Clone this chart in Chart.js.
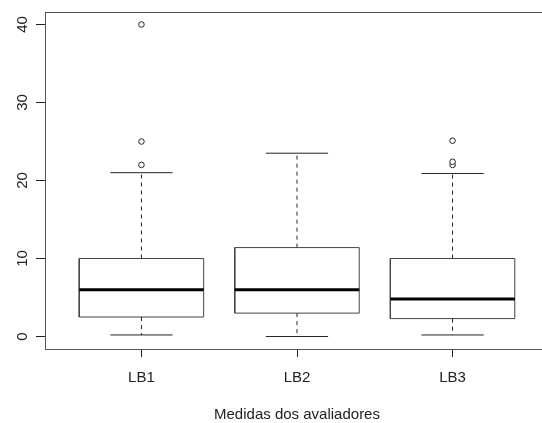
<!DOCTYPE html>
<html>
<head>
<meta charset="utf-8">
<script src="https://cdn.jsdelivr.net/npm/chart.js@4/dist/chart.umd.min.js"></script>
<style>
  html, body { margin: 0; padding: 0; background: #fff; overflow: hidden; }
  canvas { display: block; }
</style>
</head>
<body>
<canvas id="boxplot" width="554" height="423"></canvas>
<script>
// values
const groups = ['LB1', 'LB2', 'LB3'];
const whiskerLow = [0.2, 0, 0.2];
const q1 = [2.5, 3, 2.3];
const median = [6, 6, 4.8];
const q3 = [10, 11.4, 10];
const whiskerHigh = [21, 23.5, 20.9];
const outliers = [[22, 25, 40], [], [22, 22.4, 25.1]];
const yTicks = [0, 10, 20, 30, 40];

const ink = '#222';
const font = { family: 'Liberation Sans, Arial, sans-serif', size: 15 };

const seg = (pts, extra) => Object.assign({
    type: 'scatter',
    data: pts,
    showLine: true,
    borderColor: ink,
    borderWidth: 1,
    pointRadius: 0,
    fill: false
}, extra || {});

var datasets = [];
groups.forEach((g, i) => {
    const x = i + 1;
    datasets.push(seg([{x: x - 0.4, y: median[i]}, {x: x + 0.4, y: median[i]}], {borderWidth: 3, borderColor: '#000'}));
    datasets.push(seg([
        {x: x - 0.4, y: q1[i]}, {x: x + 0.4, y: q1[i]}, {x: x + 0.4, y: q3[i]},
        {x: x - 0.4, y: q3[i]}, {x: x - 0.4, y: q1[i]}
    ], {borderColor: '#444'}));
    datasets.push(seg([{x: x, y: q3[i]}, {x: x, y: whiskerHigh[i]}], {borderDash: [4, 4]}));
    datasets.push(seg([{x: x, y: q1[i]}, {x: x, y: whiskerLow[i]}], {borderDash: [4, 4]}));
    datasets.push(seg([{x: x - 0.2, y: whiskerHigh[i]}, {x: x + 0.2, y: whiskerHigh[i]}]));
    datasets.push(seg([{x: x - 0.2, y: whiskerLow[i]}, {x: x + 0.2, y: whiskerLow[i]}]));
});
var outPts = [];
outliers.forEach((arr, i) => arr.forEach(v => outPts.push({x: i + 1, y: v})));
datasets.unshift({
    type: 'scatter',
    data: outPts,
    pointStyle: 'circle',
    pointRadius: 2.8,
    pointBorderWidth: 1,
    pointBorderColor: ink,
    pointBackgroundColor: '#fff'
});

// frame and rotated y labels, like base R graphics
const framePlugin = {
    id: 'frame',
    afterDraw(chart) {
        const c = chart.ctx, a = chart.chartArea, ys = chart.scales.y;
        c.save();
        c.strokeStyle = '#555';
        c.lineWidth = 1;
        c.strokeRect(Math.round(a.left) + 0.5, Math.round(a.top) + 0.5, a.right - a.left, a.bottom - a.top);
        c.fillStyle = ink;
        c.font = font.size + 'px ' + font.family;
        c.textAlign = 'center';
        c.textBaseline = 'middle';
        yTicks.forEach(v => {
            c.save();
            c.translate(23, ys.getPixelForValue(v));
            c.rotate(-Math.PI / 2);
            c.fillText(String(v), 0, 0);
            c.restore();
        });
        c.restore();
    }
};

chart1 = new Chart(document.getElementById('boxplot'), {
    type: 'scatter',
    data: { datasets: datasets },
    options: {
        responsive: false,
        animation: false,
        layout: { padding: { left: 0, right: 1, top: 12, bottom: 0 } },
        plugins: { legend: { display: false }, tooltip: { enabled: false } },
        scales: {
            x: {
                type: 'linear',
                min: 0.38,
                max: 3.62,
                afterBuildTicks: s => { s.ticks = [1, 2, 3].map(v => ({value: v})); },
                afterFit: s => { s.height = 74; },
                ticks: {
                    autoSkip: false,
                    maxRotation: 0,
                    padding: 12,
                    color: ink,
                    font: font,
                    callback: v => groups[v - 1]
                },
                grid: { drawOnChartArea: false, drawTicks: true, tickLength: 8, color: ink },
                border: { display: false },
                title: {
                    display: true,
                    text: 'Medidas dos avaliadores',
                    color: ink,
                    font: font,
                    padding: { top: 0, bottom: -1 }
                }
            },
            y: {
                min: -1.6,
                max: 41.6,
                afterBuildTicks: s => { s.ticks = yTicks.map(v => ({value: v})); },
                afterFit: s => { s.width = 45; },
                ticks: { display: false },
                grid: { drawOnChartArea: false, drawTicks: true, tickLength: 9, color: ink },
                border: { display: false }
            }
        }
    },
    plugins: [framePlugin]
});
</script>
</body>
</html>
